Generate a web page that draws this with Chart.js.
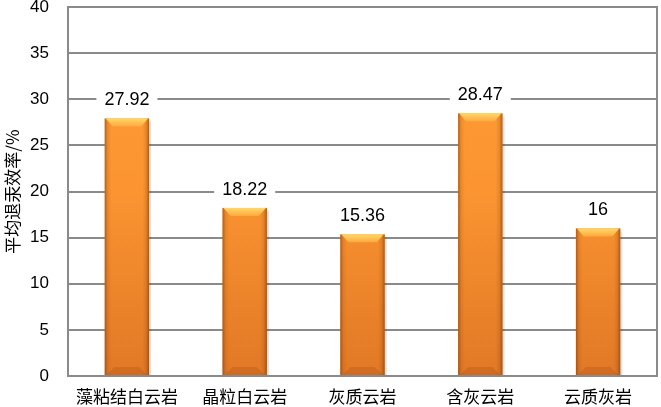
<!DOCTYPE html>
<html>
<head>
<meta charset="utf-8">
<script src="https://cdn.jsdelivr.net/npm/chart.js@4"></script>
<style>
  html, body { margin: 0; padding: 0; background: #fff; }
  #wrap { width: 661px; height: 407px; }
</style>
</head>
<body>
<div id="wrap"><canvas id="c" width="661" height="407"></canvas></div>
<script>
const categories = ['藻粘结白云岩', '晶粒白云岩', '灰质云岩', '含灰云岩', '云质灰岩'];
const efficiency = [27.92, 18.22, 15.36, 28.47, 16];
const yTicks = [0, 5, 10, 15, 20, 25, 30, 35, 40];

// box around plot area
const frame = {
    id: 'frame',
    afterDraw(chart) {
        const a = chart.chartArea;
        const ctx = chart.ctx;
        ctx.save();
        ctx.strokeStyle = '#8a8a8a';
        ctx.lineWidth = 2;
        ctx.strokeRect(a.left, a.top, a.right - a.left, a.bottom - a.top);
        ctx.restore();
    }
};

// bars with a cylinder-like shading
const shadedBars = {
    id: 'shadedBars',
    afterDatasetsDraw(chart) {
        const ctx = chart.ctx;
        const a = chart.chartArea;
        chart.getDatasetMeta(0).data.forEach(bar => {
            const l = bar.x - bar.width / 2, r = bar.x + bar.width / 2;
            const t = bar.y, b = bar.base;
            ctx.save();
            // soft shadow
            ctx.fillStyle = 'rgba(0,0,0,0.12)';
            ctx.fillRect(r, t + 3, 2, b - t - 3);
            // body, vertical gradient
            const vg = ctx.createLinearGradient(0, a.top, 0, b);
            vg.addColorStop(0, '#ff9d35');
            vg.addColorStop(0.5, '#fb9431');
            vg.addColorStop(1, '#e17826');
            ctx.fillStyle = vg;
            ctx.fillRect(l, t, r - l, b - t);
            // darker side edges
            const hg = ctx.createLinearGradient(l, 0, r, 0);
            hg.addColorStop(0, 'rgba(120,55,5,0.55)');
            hg.addColorStop(0.07, 'rgba(120,55,5,0.12)');
            hg.addColorStop(0.15, 'rgba(120,55,5,0)');
            hg.addColorStop(0.85, 'rgba(120,55,5,0)');
            hg.addColorStop(0.93, 'rgba(120,55,5,0.15)');
            hg.addColorStop(1, 'rgba(120,55,5,0.6)');
            ctx.fillStyle = hg;
            ctx.fillRect(l, t, r - l, b - t);
            // top bevel
            const bev = 8;
            const tg = ctx.createLinearGradient(0, t, 0, t + bev);
            tg.addColorStop(0, '#ffd86a');
            tg.addColorStop(1, '#ffaa3c');
            ctx.fillStyle = tg;
            ctx.beginPath();
            ctx.moveTo(l + 1, t);
            ctx.lineTo(r - 1, t);
            ctx.lineTo(r - bev, t + bev);
            ctx.lineTo(l + bev, t + bev);
            ctx.closePath();
            ctx.fill();
            // bottom bevel
            ctx.fillStyle = 'rgba(170,80,20,0.3)';
            ctx.beginPath();
            ctx.moveTo(l + 2, b);
            ctx.lineTo(r - 2, b);
            ctx.lineTo(r - bev - 2, b - bev);
            ctx.lineTo(l + bev + 2, b - bev);
            ctx.closePath();
            ctx.fill();
            ctx.restore();
        });
    }
};

// value labels with white box above bars
const valueLabels = {
    id: 'valueLabels',
    afterDraw(chart) {
        const ctx = chart.ctx;
        ctx.save();
        ctx.font = '18px "Liberation Sans", Arial, sans-serif';
        ctx.textAlign = 'center';
        ctx.textBaseline = 'middle';
        chart.getDatasetMeta(0).data.forEach((bar, i) => {
            const txt = String(efficiency[i]);
            const w = ctx.measureText(txt).width;
            const cy = bar.y - 18;
            ctx.fillStyle = '#fff';
            ctx.fillRect(bar.x - w / 2 - 8, cy - 11, w + 16, 22);
            ctx.fillStyle = '#000';
            ctx.fillText(txt, bar.x, cy);
        });
        ctx.restore();
    }
};

new Chart(document.getElementById('c').getContext('2d'), {
    type: 'bar',
    data: {
        labels: categories,
        datasets: [{
            label: '平均退汞效率/%',
            data: efficiency,
            backgroundColor: 'rgba(0,0,0,0)',
            barPercentage: 0.377,
            categoryPercentage: 1
        }]
    },
    options: {
        responsive: false,
        animation: false,
        layout: { padding: { top: 7, right: 4, left: 0, bottom: 0 } },
        plugins: {
            legend: { display: false },
            tooltip: { enabled: false }
        },
        scales: {
            x: {
                grid: { display: false, drawTicks: false },
                border: { display: false },
                afterFit: axis => { axis.height = 31; },
                ticks: {
                    color: '#000',
                    padding: 10,
                    font: { family: '"Noto Sans CJK SC"', size: 17 }
                }
            },
            y: {
                min: 0,
                max: 40,
                afterBuildTicks: axis => { axis.ticks = yTicks.map(v => ({ value: v })); },
                afterFit: axis => {
                    axis.width = 68;
                    axis.paddingTop = 0;
                    axis.paddingBottom = 0;
                },
                grid: { color: '#8a8a8a', lineWidth: 2, drawTicks: false },
                border: { display: false },
                ticks: {
                    color: '#000',
                    padding: 19,
                    font: { family: '"Liberation Sans", Arial, sans-serif', size: 17 }
                },
                title: {
                    display: true,
                    text: '平均退汞效率/%',
                    color: '#000',
                    padding: { top: 2, bottom: 0 },
                    font: { family: '"Noto Sans CJK SC"', size: 17 }
                }
            }
        }
    },
    plugins: [frame, shadedBars, valueLabels]
});
</script>
</body>
</html>
